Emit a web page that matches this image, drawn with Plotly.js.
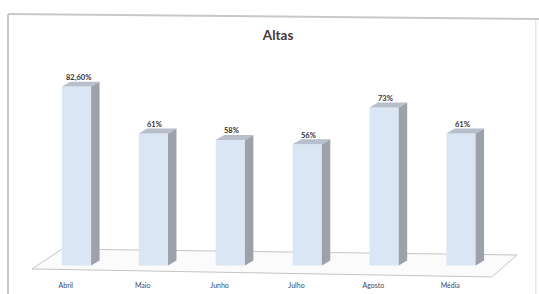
<!DOCTYPE html>
<html>
<head>
<meta charset="utf-8">
<script src="https://cdn.plot.ly/plotly-3.0.1.min.js"></script>
<style>
html,body{margin:0;padding:0;background:#ffffff;}
#chart{width:539px;height:294px;}
</style>
</head>
<body>
<div id="chart"></div>
<script>
// ---- data ----
var categories = ["Abril", "Maio", "Junho", "Julho", "Agosto", "Média"];
var values = [82.6, 61, 58, 56, 73, 61];
var valueLabels = ["82,60%", "61%", "58%", "56%", "73%", "61%"];
var chartTitle = "Altas";

// ---- style / geometry constants ----
var barW = 0.38;      // front face width (category units)
var depthX = 0.11;    // 3D depth in x
var depthY = 2.3;     // 3D depth in y (value units)
var frontColor = "#dae6f4";
var sideColor = "#9ca1aa";
var topColor = "#b7bfcb";

var idx = categories.map(function(c, i){ return i; });

var shapes = [];
// floor
var n = categories.length;
shapes.push({
  type: "path", xref: "x", yref: "y", layer: "below",
  path: "M " + (-0.58) + " " + (-1.6) +
        " L " + (n - 1 + 0.40) + " " + (-5.3) +
        " L " + (n - 1 + 0.73) + " " + (4.85) +
        " L " + (-0.19) + " " + (7.6) + " Z",
  fillcolor: "#fbfbfb",
  line: {color: "#c4c4c4", width: 1}
});
// side + top faces derived from data
values.forEach(function(v, i){
  var x0 = i - barW / 2, x1 = i + barW / 2;
  shapes.push({
    type: "path", xref: "x", yref: "y", layer: "above",
    path: "M " + x1 + " 0 L " + x1 + " " + v + " L " + (x1 + depthX) + " " + (v + depthY) +
          " L " + (x1 + depthX) + " " + depthY + " Z",
    fillcolor: sideColor, line: {width: 0}
  });
  shapes.push({
    type: "path", xref: "x", yref: "y", layer: "above",
    path: "M " + x0 + " " + v + " L " + x1 + " " + v + " L " + (x1 + depthX) + " " + (v + depthY) +
          " L " + (x0 + depthX) + " " + (v + depthY) + " Z",
    fillcolor: topColor, line: {width: 0}
  });
});
// chart frame (paper)
shapes.push({type: "line", xref: "paper", yref: "paper", x0: 0.0148, y0: 0.95, x1: 1.0, y1: 0.932,
  line: {color: "#c8c8c8", width: 2}});
shapes.push({type: "line", xref: "paper", yref: "paper", x0: 0.0148, y0: 0.95, x1: 0.0148, y1: -0.06,
  line: {color: "#c8c8c8", width: 2}});
shapes.push({type: "line", xref: "paper", yref: "paper", x0: 0.994, y0: 0.93, x1: 0.994, y1: -0.06,
  line: {color: "#e6e6e6", width: 1.5}});

var annotations = values.map(function(v, i){
  return {
    x: i + 0.02, y: v + depthY * 0.3, xref: "x", yref: "y",
    text: "<b>" + valueLabels[i] + "</b>",
    showarrow: false, yanchor: "bottom", yshift: 1,
    font: {family: "Lato, 'Open Sans', sans-serif", size: 7.5, color: "#3b2e30"}
  };
});

var trace = {
  type: "bar",
  x: idx,
  y: values,
  width: barW,
  marker: {color: frontColor, line: {width: 0}},
  hoverinfo: "skip"
};

var layout = {
  width: 539, height: 294,
  margin: {l: 0, r: 0, t: 0, b: 14},
  paper_bgcolor: "#ffffff",
  plot_bgcolor: "rgba(0,0,0,0)",
  showlegend: false,
  title: {
    text: "<b>" + chartTitle + "</b>",
    x: 0.516, xanchor: "center", xref: "paper",
    y: 0.88, yanchor: "middle", yref: "container",
    font: {family: "Lato, 'Open Sans', sans-serif", size: 13.5, color: "#4a3538"}
  },
  xaxis: {
    range: [-0.995, 6.014],
    tickmode: "array",
    tickvals: idx.map(function(i){ return i - 0.14; }),
    ticktext: categories,
    showgrid: false, zeroline: false, showline: false,
    ticks: "", ticklen: 0,
    tickfont: {family: "Lato, 'Open Sans', sans-serif", size: 7, color: "#3e4658"},
    fixedrange: true
  },
  yaxis: {
    range: [-6.7, 122.6],
    showgrid: false, zeroline: false, showline: false,
    showticklabels: false, ticks: "",
    fixedrange: true
  },
  shapes: shapes,
  annotations: annotations
};

Plotly.newPlot("chart", [trace], layout, {displayModeBar: false, staticPlot: true});
</script>
</body>
</html>
